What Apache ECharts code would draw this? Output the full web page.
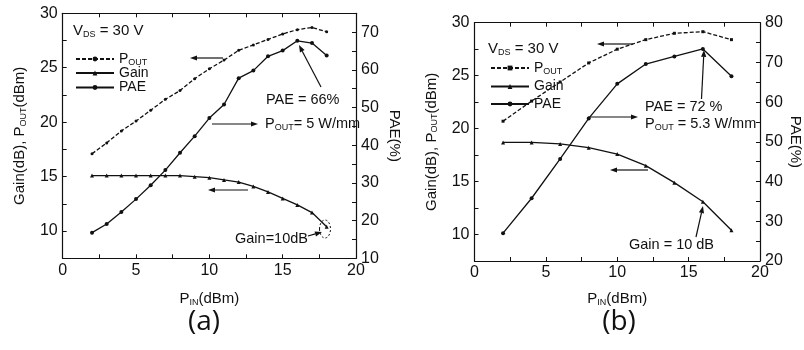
<!DOCTYPE html>
<html><head><meta charset="utf-8">
<script src="https://cdn.jsdelivr.net/npm/echarts@6/dist/echarts.min.js"></script>
<style>html,body{margin:0;padding:0;background:#fff}#c{width:804px;height:350px}</style>
</head><body><div id="c"></div>
<script>
// ---- Data: panel (a) ----
const pinA  = [2,3,4,5,6,7,8,9,10,11,12,13,14,15,16,17,18];
const poutA = [17.1,18.1,19.2,20.1,21.1,22.1,22.9,24.0,24.9,25.7,26.6,27.1,27.6,28.1,28.5,28.7,28.3];
const gainA = [15.1,15.1,15.1,15.1,15.1,15.1,15.1,15.0,14.9,14.7,14.5,14.1,13.6,13.0,12.4,11.7,10.4];
const paeA  = [16.8,19.1,22.3,25.7,29.4,33.4,38.0,42.4,47.2,50.8,57.8,59.8,63.6,65.1,67.7,67.1,63.8];
// ---- Data: panel (b) ----
const pinB  = [2,4,6,8,10,12,14,16,18];
const poutB = [20.7,22.6,24.4,26.2,27.5,28.4,29.0,29.15,28.4];
const gainB = [18.7,18.7,18.55,18.2,17.6,16.5,14.9,13.1,10.4];
const paeB  = [27.0,35.8,45.7,55.9,64.6,69.6,71.5,73.4,66.5];
// ---- Tick labels ----
const xTicks = [0,5,10,15,20];
const leftTicks = [10,15,20,25,30];
const rightTicksA = [10,20,30,40,50,60,70];
const rightTicksB = [20,30,40,50,60,70,80];

const FONT = "'Liberation Sans', Arial, Helvetica, sans-serif";
const INK = '#111';
const SUB = {fontSize: 9, fontFamily: FONT, color: INK, padding: [7,0,0,0]};
function pairs(xs, ys){ return xs.map((x,i)=>[x, ys[i]]); }

function xAx(g, pos, labels){
  return {gridIndex:g, type:'value', min:0, max:20, interval:2.5, position:pos,
    axisLine:{onZero:false, lineStyle:{color:INK, width:1.2}},
    axisTick:{inside:true, length:4, lineStyle:{color:INK}},
    axisLabel: labels ? {show:true, customValues:xTicks, margin:4, fontSize:16, fontFamily:FONT, color:INK} : {show:false},
    splitLine:{show:false},
    name: labels ? 'P{s|IN}(dBm)' : '', nameLocation:'middle', nameGap: labels ? labels : 0,
    nameTextStyle:{fontSize:15, fontFamily:FONT, color:INK, rich:{s:SUB}}
  };
}
function yAx(g, pos, min, max, iv, ticks, name, gap, rot){
  return {gridIndex:g, type:'value', min:min, max:max, interval:iv, position:pos,
    axisLine:{onZero:false, lineStyle:{color:INK, width:1.2}},
    axisTick:{inside:true, length:4, lineStyle:{color:INK}},
    axisLabel:{customValues:ticks, margin:5, fontSize:16, fontFamily:FONT, color:INK},
    splitLine:{show:false},
    name:name, nameLocation:'middle', nameGap:gap, nameRotate:rot,
    nameTextStyle:{fontSize:15, fontFamily:FONT, color:INK, rich:{s:SUB}}
  };
}
function ser(name, xi, yi, xs, ys, sym, size, dashed){
  return {name:name, type:'line', xAxisIndex:xi, yAxisIndex:yi, data:pairs(xs, ys),
    symbol:sym, symbolSize:size, showSymbol:true, animation:false, silent:true,
    lineStyle:{color:INK, width:1.3, type: dashed ? [4,2] : 'solid'},
    itemStyle:{color:INK}
  };
}
const legendNames = {
  'Pout a':'P{s|OUT}', 'Gain a':'Gain', 'PAE a':'PAE',
  'Pout b':'P{s|OUT}', 'Gain b':'Gain', 'PAE b':'PAE'
};
function leg(name, left, top){
  return {data:[name], left:left, top:top, orient:'vertical', padding:0,
    itemWidth:38, itemHeight:6, itemGap:0, selectedMode:false,
    formatter: n => legendNames[n],
    textStyle:{fontSize:14, fontFamily:FONT, color:INK, rich:{s:SUB}}
  };
}
function arrow(x1,y1,x2,y2){
  const a = Math.atan2(y2-y1, x2-x1), c = Math.cos(a), s = Math.sin(a);
  const hl = 7, hw = 2.6;
  const bx = x2 - hl*c, by = y2 - hl*s, px = -s*hw, py = c*hw;
  return [
    {type:'line', shape:{x1:x1,y1:y1,x2:bx,y2:by}, style:{stroke:INK, lineWidth:1.2}},
    {type:'polygon', shape:{points:[[x2,y2],[bx+px,by+py],[bx-px,by-py]]}, style:{fill:INK}}
  ];
}
function txt(x, y, t, size, fam){
  return {type:'text', x:x, y:y, style:{text:t, fontSize:size||14.5, fontFamily:fam||FONT, fill:INK,
    verticalAlign:'middle', align:'left', rich:{s:SUB}}};
}

const graphics = [].concat(
  // panel (a)
  txt(73, 31, 'V{s|DS} = 30 V', 15),
  arrow(223,58,190,58),
  arrow(212,124,258,124),
  arrow(248,190,208,190),
  arrow(321,87,299,45),
  arrow(308,236,322,232),
  [{type:'ellipse', shape:{cx:325, cy:229, rx:5.5, ry:9}, style:{fill:'none', stroke:INK, lineWidth:1, lineDash:[2,2]}}],
  txt(266, 99.5, 'PAE = 66%'),
  txt(265, 124, 'P{s|OUT}= 5 W/mm'),
  txt(235, 238.5, 'Gain=10dB'),
  [{type:'text', x:204, y:322, style:{text:'(a)', fontSize:28, fontFamily:"'Open Sans', sans-serif", fill:INK, align:'center', verticalAlign:'middle'}}],
  // panel (b)
  txt(488, 49, 'V{s|DS} = 30 V', 15),
  arrow(633,44,597,44),
  arrow(588,117,638,117),
  arrow(648,170,610,170),
  arrow(701.5,99,704,50),
  arrow(696,237,703,206),
  txt(645, 106.5, 'PAE = 72 %'),
  txt(645, 124, 'P{s|OUT} = 5.3 W/mm'),
  txt(629, 245, 'Gain = 10 dB'),
  [{type:'text', x:619, y:322, style:{text:'(b)', fontSize:28, fontFamily:"'Open Sans', sans-serif", fill:INK, align:'center', verticalAlign:'middle'}}]
);

const option = {
  backgroundColor:'#fff',
  animation:false,
  grid:[
    {left:62.7, top:13.3, width:293.3, height:245},
    {left:474.5, top:22.7, width:287.5, height:238.3}
  ],
  xAxis:[ xAx(0,'bottom',33), xAx(0,'top',0), xAx(1,'bottom',30), xAx(1,'top',0) ],
  yAxis:[
    yAx(0,'left',7.5,30,2.5,leftTicks,'Gain(dB), P{s|OUT}(dBm)',35,90),
    yAx(0,'right',10,75,5,rightTicksA,'PAE(%)',31,-90),
    yAx(1,'left',7.5,30,2.5,leftTicks,'Gain(dB), P{s|OUT}(dBm)',35,90),
    yAx(1,'right',20,80,5,rightTicksB,'PAE(%)',28,-90)
  ],
  legend:[
    leg('Pout a',75,52), leg('Gain a',75,66), leg('PAE a',75,80.5),
    leg('Pout b',490,61), leg('Gain b',490,79.5), leg('PAE b',490,97)
  ],
  series:[
    ser('Pout a',0,0,pinA,poutA,'circle',3,true),
    ser('Gain a',0,0,pinA,gainA,'triangle',4,false),
    ser('PAE a',0,1,pinA,paeA,'circle',4,false),
    ser('Pout b',2,2,pinB,poutB,'rect',3,true),
    ser('Gain b',2,2,pinB,gainB,'triangle',4,false),
    ser('PAE b',2,3,pinB,paeB,'circle',4,false)
  ],
  graphic: graphics
};
const chart = echarts.init(document.getElementById('c'), null, {renderer:'canvas'});
chart.setOption(option);
</script>
</body></html>
